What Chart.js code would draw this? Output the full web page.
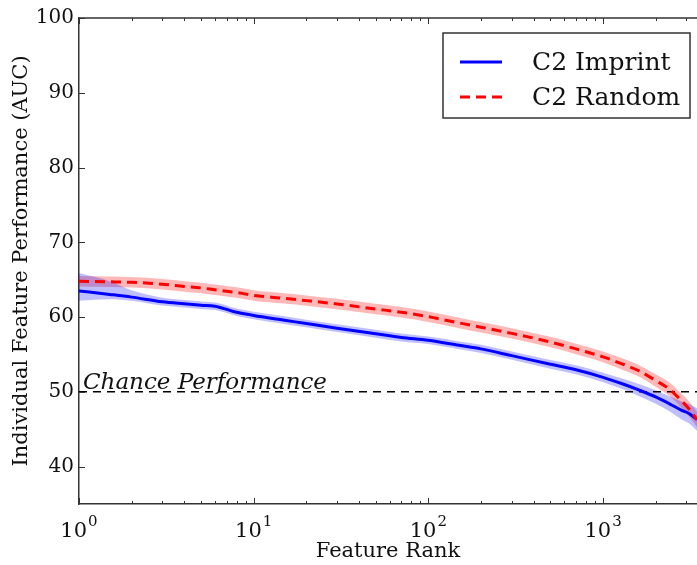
<!DOCTYPE html>
<html><head><meta charset="utf-8">
<script src="https://cdn.jsdelivr.net/npm/chart.js@4.4.0/dist/chart.umd.min.js"></script>
<style>html,body{margin:0;padding:0;background:#fff;}#wrap{width:697px;height:565px;}</style>
</head><body><div id="wrap"><canvas id="c" width="697" height="565"></canvas></div>
<script>
const ranks = [1,1.5,2,3,4,5,6,7,7.5,8,9,10,15,20,30,50,70,100,150,200,300,500,700,1000,1300,1600,2000,2400,2800,3100,3450];
const imprintMean = [63.5,63.03,62.67,62.05,61.78,61.59,61.44,61.03,60.8,60.65,60.4,60.2,59.58,59.14,58.52,57.77,57.27,56.9,56.22,55.75,54.84,53.68,52.95,51.94,51.05,50.26,49.32,48.4,47.56,47.1,46.3];
const imprintHigh = [65.9,64.8,63.6,62.6,62.3,62.1,61.95,61.55,61.3,61.15,60.9,60.7,60.1,59.65,59.05,58.3,57.8,57.4,56.75,56.3,55.4,54.25,53.55,52.55,51.75,51.05,50.2,49.4,48.75,48.4,47.8];
const imprintLow = [62.2,62.4,62.2,61.55,61.28,61.09,60.94,60.53,60.3,60.15,59.9,59.7,59.08,58.64,58.0,57.25,56.75,56.4,55.7,55.2,54.3,53.1,52.35,51.3,50.35,49.45,48.4,47.4,46.35,45.8,44.8];
const randomMean = [64.8,64.72,64.65,64.4,64.1,63.9,63.65,63.45,63.35,63.3,63.08,62.9,62.5,62.2,61.75,61.08,60.65,60.05,59.22,58.65,57.82,56.66,55.74,54.68,53.69,52.83,51.52,50.35,48.85,47.75,46.3];
const randomHigh = [65.5,65.42,65.35,65.1,64.8,64.6,64.35,64.15,64.05,64.0,63.78,63.6,63.2,62.9,62.45,61.78,61.35,60.75,59.92,59.35,58.52,57.36,56.44,55.4,54.45,53.6,52.35,51.25,49.8,48.75,47.3];
const randomLow = [64.1,64.02,63.95,63.7,63.4,63.2,62.95,62.75,62.65,62.6,62.38,62.2,61.8,61.5,61.05,60.38,59.95,59.35,58.52,57.95,57.12,55.96,55.04,53.96,52.93,52.06,50.69,49.45,47.9,46.75,45.3];
const chanceLevel = 50;
const xRange = [1, 3450];
const yRange = [35, 100];
const xTickValues = [1, 10, 100, 1000];
const xTickBase = '10';
const xTickExponents = ['0', '1', '2', '3'];
const yTickValues = [40, 50, 60, 70, 80, 90, 100];
const seriesNames = ['C2 Imprint', 'C2 Random'];
const chanceLabel = 'Chance Performance';
const xTitle = 'Feature Rank';
const yTitle = 'Individual Feature Performance (AUC)';

const FONT = 'DejaVu Serif';
const pts = arr => ranks.map((r, i) => ({x: r, y: arr[i]}));

const extras = {
  id: 'extras',
  afterDraw(chart) {
    const ctx = chart.ctx, a = chart.chartArea;
    const xs = chart.scales.x, ys = chart.scales.y;
    ctx.save();
    // top spine
    ctx.strokeStyle = '#333'; ctx.lineWidth = 1.5;
    ctx.beginPath(); ctx.moveTo(a.left, a.top); ctx.lineTo(a.right, a.top); ctx.stroke();
    // x tick marks (inside)
    ctx.lineWidth = 1;
    ctx.strokeStyle = '#333';
    for (const d of xTickValues) {
      for (let m = 1; m <= 9; m++) {
        const v = d * m;
        if (v > xRange[1]) break;
        const px = Math.round(xs.getPixelForValue(v)) + 0.5;
        const len = m === 1 ? 6 : 3;
        ctx.beginPath(); ctx.moveTo(px, a.bottom); ctx.lineTo(px, a.bottom - len); ctx.stroke();
        ctx.beginPath(); ctx.moveTo(px, a.top); ctx.lineTo(px, a.top + len); ctx.stroke();
      }
    }
    for (const v of yTickValues) {
      const py = Math.round(ys.getPixelForValue(v)) + 0.5;
      ctx.beginPath(); ctx.moveTo(a.left, py); ctx.lineTo(a.left + 6, py); ctx.stroke();
    }
    // x tick labels: 10 with superscript exponent
    ctx.fillStyle = '#111';
    ctx.textBaseline = 'alphabetic'; ctx.textAlign = 'left';
    xTickValues.forEach((v, i) => {
      const px = xs.getPixelForValue(v);
      ctx.font = '21px "' + FONT + '"';
      const wb = ctx.measureText(xTickBase).width;
      ctx.font = '15px "' + FONT + '"';
      const we = ctx.measureText(xTickExponents[i]).width;
      const x0 = px - (wb + we + 1) / 2;
      ctx.font = '21px "' + FONT + '"';
      ctx.fillText(xTickBase, x0, a.bottom + 33);
      ctx.font = '15px "' + FONT + '"';
      ctx.fillText(xTickExponents[i], x0 + wb + 1, a.bottom + 22);
    });
    // chance label
    ctx.fillStyle = '#111';
    ctx.font = 'italic 23px "' + FONT + '"';
    ctx.fillText(chanceLabel, a.left + 4, ys.getPixelForValue(chanceLevel) - 3);
    // legend
    const bx = a.right - 254, by = a.top + 15, bw = 247, bh = 85;
    ctx.fillStyle = '#fff'; ctx.fillRect(bx, by, bw, bh);
    ctx.strokeStyle = '#333'; ctx.lineWidth = 1.5; ctx.strokeRect(bx, by, bw, bh);
    const items = [chart.data.datasets[0], chart.data.datasets[1]];
    items.forEach((ds, i) => {
      const cy = by + 29 + i * 35;
      ctx.strokeStyle = ds.borderColor; ctx.lineWidth = ds.borderWidth;
      ctx.setLineDash(ds.borderDash || []);
      ctx.beginPath(); ctx.moveTo(bx + 17, cy); ctx.lineTo(bx + 59, cy); ctx.stroke();
      ctx.setLineDash([]);
      ctx.fillStyle = '#111'; ctx.font = '25px "' + FONT + '"';
      ctx.textBaseline = 'middle';
      ctx.fillText(ds.label, bx + 89, cy + 1);
    });
    ctx.restore();
  }
};

new Chart(document.getElementById('c'), {
  type: 'line',
  data: {
    datasets: [
      {label: seriesNames[0], data: pts(imprintMean), borderColor: '#0000ff', borderWidth: 3, pointRadius: 0, fill: false, cubicInterpolationMode: 'monotone', order: 2},
      {label: seriesNames[1], data: pts(randomMean), borderColor: '#ff0000', borderWidth: 3, borderDash: [10, 6], pointRadius: 0, fill: false, cubicInterpolationMode: 'monotone', order: 1},
      {label: 'imprintHigh', data: pts(imprintHigh), borderWidth: 0, borderColor: 'rgba(0,0,0,0)', backgroundColor: 'rgba(0,0,255,0.25)', pointRadius: 0, fill: '+1', cubicInterpolationMode: 'monotone', order: 9},
      {label: 'imprintLow', data: pts(imprintLow), borderWidth: 0, borderColor: 'rgba(0,0,0,0)', pointRadius: 0, fill: false, cubicInterpolationMode: 'monotone', order: 9},
      {label: 'randomHigh', data: pts(randomHigh), borderWidth: 0, borderColor: 'rgba(0,0,0,0)', backgroundColor: 'rgba(255,0,0,0.28)', pointRadius: 0, fill: '+1', cubicInterpolationMode: 'monotone', order: 10},
      {label: 'randomLow', data: pts(randomLow), borderWidth: 0, borderColor: 'rgba(0,0,0,0)', pointRadius: 0, fill: false, cubicInterpolationMode: 'monotone', order: 10},
      {label: 'chance', data: [{x: xRange[0], y: chanceLevel}, {x: xRange[1], y: chanceLevel}], borderColor: '#000', borderWidth: 1.5, borderDash: [8, 6], pointRadius: 0, fill: false, order: 5}
    ]
  },
  options: {
    responsive: false,
    animation: false,
    devicePixelRatio: 1,
    layout: {padding: {left: 0, right: 0, top: 18, bottom: 0}},
    plugins: {legend: {display: false}, tooltip: {enabled: false}},
    scales: {
      x: {
        type: 'logarithmic', min: xRange[0], max: xRange[1],
        afterBuildTicks: s => { s.ticks = xTickValues.map(v => ({value: v})); },
        afterFit: s => { s.height = 61; },
        grid: {display: true, drawOnChartArea: false, drawTicks: false},
        border: {display: true, color: '#333', width: 1.5},
        ticks: {display: false},
        title: {display: true, text: xTitle, font: {family: FONT, size: 21}, color: '#111', padding: {top: 0, bottom: 1}}
      },
      y: {
        type: 'linear', min: yRange[0], max: yRange[1],
        afterBuildTicks: s => { s.ticks = yTickValues.map(v => ({value: v})); },
        afterFit: s => { s.width = 79; },
        grid: {display: true, drawOnChartArea: false, drawTicks: false},
        border: {display: true, color: '#333', width: 1.5},
        ticks: {font: {family: FONT, size: 20}, color: '#111', padding: 5},
        title: {display: true, text: yTitle, font: {family: FONT, size: 21}, color: '#111', padding: {top: 9, bottom: 0}}
      }
    }
  },
  plugins: [extras]
});
</script></body></html>
